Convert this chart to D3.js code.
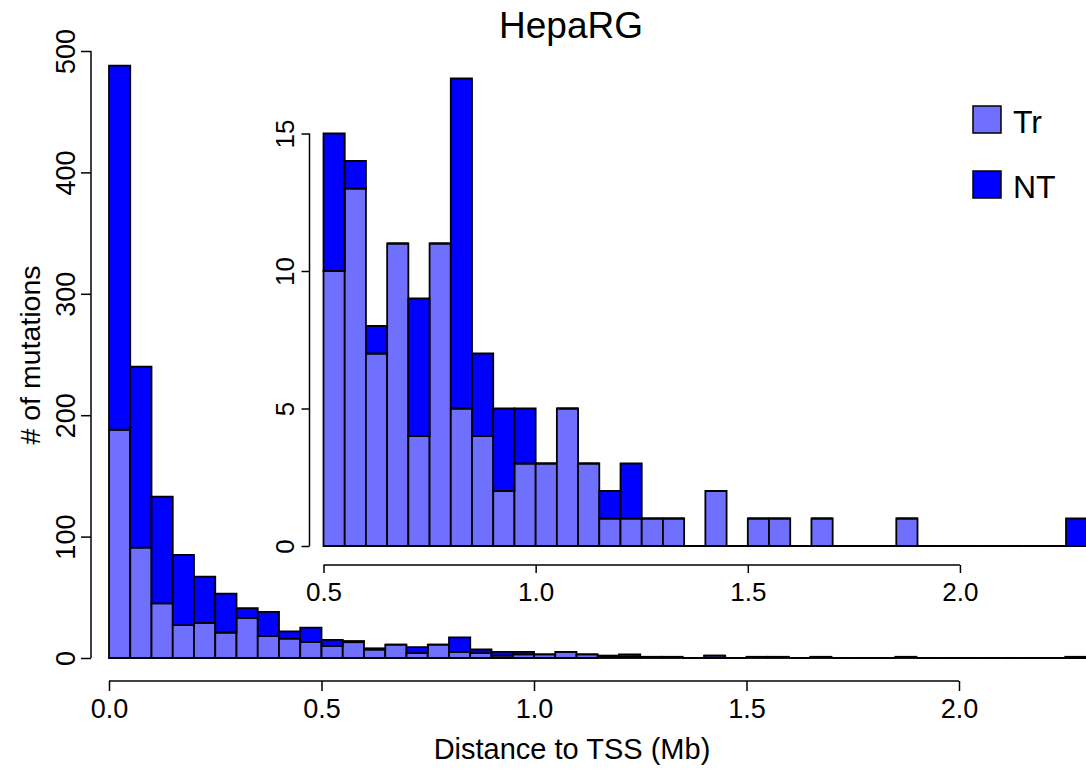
<!DOCTYPE html>
<html><head><meta charset="utf-8">
<script src="https://cdn.jsdelivr.net/npm/d3@7"></script>
<style>
body{margin:0;background:#fff;}
text{font-family:"Liberation Sans",Arial,Helvetica,sans-serif;fill:#000;}
</style></head>
<body><svg id="c" width="1086" height="770"></svg>
<script>
// Bin start positions (Mb), bin width 0.05
const binStarts = [0.00,0.05,0.10,0.15,0.20,0.25,0.30,0.35,0.40,0.45,
  0.50,0.55,0.60,0.65,0.70,0.75,0.80,0.85,0.90,0.95,
  1.00,1.05,1.10,1.15,1.20,1.25,1.30,1.35,1.40,1.45,
  1.50,1.55,1.60,1.65,1.70,1.75,1.80,1.85,1.90,1.95,
  2.00,2.05,2.10,2.15,2.20,2.25];
const binWidth = 0.05;
// Transcribed (Tr) counts per bin
const trCounts = [188,91,45,27,29,21,33,18,16,13,
  10,13,7,11,4,11,5,4,2,3,
  3,5,3,1,1,1,1,0,2,0,
  1,1,0,1,0,0,0,1,0,0,
  0,0,0,0,0,0];
// Non-transcribed (NT) counts per bin
const ntCounts = [300,149,88,58,38,32,8,20,6,12,
  5,1,1,0,5,0,12,3,3,2,
  0,0,0,1,2,0,0,0,0,0,
  0,0,0,0,0,0,0,0,0,0,
  0,0,0,0,0,1];
const seriesNames = ["Tr","NT"];
const seriesColors = ["#7070FF","#0000FF"];
const mainXTicks = [0,0.5,1.0,1.5,2.0];
const mainYTicks = [0,100,200,300,400,500];
const insetXTicks = [0.5,1.0,1.5,2.0];
const insetYTicks = [0,5,10,15];
const insetStart = 0.5;

const rows = binStarts.map((s,i)=>({x0:s, x1:s+binWidth, Tr:trCounts[i], NT:ntCounts[i]}));
const stack = d3.stack().keys(seriesNames)(rows);

const svg = d3.select("#c");
const fmt = d3.format(".1f");

function barPath(x, y, d, lo, hi){
  const xa = x(d.data.x0), xb = x(d.data.x1), ya = y(lo), yb = y(hi);
  return `M${xa},${ya}H${xb}V${yb}H${xa}Z`;
}

function drawHist(g, x, y, filterFn){
  stack.forEach((layer,k)=>{
    g.append("g").selectAll("path")
      .data(layer.filter(d=>filterFn(d.data)))
      .join("path")
      .attr("d", d=>barPath(x,y,d,d[0],d[1]))
      .attr("fill", seriesColors[k])
      .attr("stroke", "#000")
      .attr("stroke-width", 1.8)
      .attr("stroke-linejoin","miter");
  });
}

function styleAxis(g){
  g.select(".domain").remove();
  g.selectAll(".tick line").attr("stroke","#000").attr("stroke-width",1.5);
}

// ---------- main chart ----------
const mx = d3.scaleLinear().domain([0, 2.3]).range([109, 109 + 2.3*425]);
const my = d3.scaleLinear().domain([0, 500]).range([658, 51]);

drawHist(svg.append("g"), mx, my, d=>true);

// main x axis
const gmx = svg.append("g").attr("transform","translate(0,681)")
  .call(d3.axisBottom(mx).tickValues(mainXTicks).tickFormat(fmt).tickSize(10).tickSizeOuter(0));
styleAxis(gmx);
gmx.append("line").attr("x1",mx(0)).attr("x2",mx(2)).attr("stroke","#000").attr("stroke-width",1.5);
gmx.selectAll(".tick text").attr("y",37).attr("dy",0).attr("font-size",27).attr("fill","#000");

// main y axis
const gmy = svg.append("g").attr("transform","translate(91,0)")
  .call(d3.axisLeft(my).tickValues(mainYTicks).tickSize(10).tickSizeOuter(0));
styleAxis(gmy);
gmy.append("line").attr("y1",my(0)).attr("y2",my(500)).attr("stroke","#000").attr("stroke-width",1.5);
gmy.selectAll(".tick text").attr("transform","rotate(-90)").attr("x",0).attr("y",-16).attr("dy",0)
  .attr("text-anchor","middle").attr("font-size",27).attr("fill","#000");

// titles
svg.append("text").attr("x",571).attr("y",38).attr("text-anchor","middle").attr("font-size",37).text("HepaRG");
svg.append("text").attr("x",572).attr("y",759).attr("text-anchor","middle").attr("font-size",29).text("Distance to TSS (Mb)");
svg.append("text").attr("transform","translate(40,355) rotate(-90)").attr("text-anchor","middle").attr("font-size",28.5).text("# of mutations");

// ---------- inset ----------
const ix = d3.scaleLinear().domain([insetStart, 2.3]).range([323.5, 323.5 + 1.8*424.3]);
const iy = d3.scaleLinear().domain([0, 15]).range([546, 133.5]);

drawHist(svg.append("g"), ix, iy, d=>d.x0 >= insetStart - 1e-9);

const gix = svg.append("g").attr("transform","translate(0,565)")
  .call(d3.axisBottom(ix).tickValues(insetXTicks).tickFormat(fmt).tickSize(8).tickSizeOuter(0));
styleAxis(gix);
gix.append("line").attr("x1",ix(0.5)).attr("x2",ix(2)).attr("stroke","#000").attr("stroke-width",1.5);
gix.selectAll(".tick text").attr("y",36).attr("dy",0).attr("font-size",26).attr("fill","#000");

const giy = svg.append("g").attr("transform","translate(309.5,0)")
  .call(d3.axisLeft(iy).tickValues(insetYTicks).tickSize(8).tickSizeOuter(0));
styleAxis(giy);
giy.append("line").attr("y1",iy(0)).attr("y2",iy(15)).attr("stroke","#000").attr("stroke-width",1.5);
giy.selectAll(".tick text").attr("transform","rotate(-90)").attr("x",0).attr("y",-16).attr("dy",0)
  .attr("text-anchor","middle").attr("font-size",26).attr("fill","#000");

// ---------- legend ----------
const legY = [106, 171];
const leg = svg.append("g");
seriesNames.forEach((n,i)=>{
  leg.append("rect").attr("x",973).attr("y",legY[i]).attr("width",28).attr("height",27)
    .attr("fill",seriesColors[i]).attr("stroke","#000").attr("stroke-width",1.5);
  leg.append("text").attr("x",1013).attr("y",legY[i]+27).attr("font-size",32).text(n);
});
</script></body></html>
